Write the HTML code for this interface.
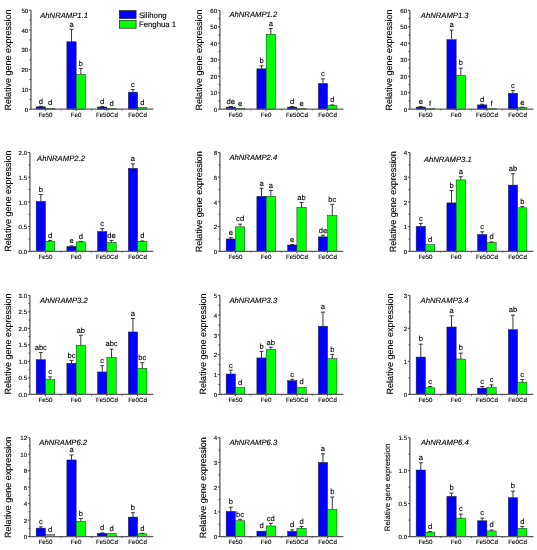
<!DOCTYPE html>
<html><head><meta charset="utf-8"><style>
html,body{margin:0;padding:0;background:#fff;}
svg{display:block;will-change:transform;}
text{font-family:"Liberation Sans", sans-serif;fill:#000;text-rendering:geometricPrecision;stroke:#000;stroke-width:0.12px;}
.L{font-size:7.6px;text-anchor:middle;}
.X{font-size:6.2px;text-anchor:middle;}
.T{font-size:6.1px;text-anchor:end;}
.H{font-size:7.7px;font-style:italic;}
.Y{text-anchor:middle;}
.G{font-size:7.8px;}
</style></head><body>
<svg width="537" height="550" viewBox="0 0 537 550">
<rect width="537" height="550" fill="#fff"/>
<rect x="36.15" y="106.83" width="9.3" height="2.37" fill="#0000ff" stroke="#222" stroke-width="0.5"/>
<path d="M40.8 106.83V106.23M38.8 106.23h4" stroke="#222" stroke-width="0.9" fill="none"/>
<text x="40.8" y="103.53" class="L">d</text>
<rect x="45.45" y="108.31" width="9.3" height="0.89" fill="#00ff00" stroke="#222" stroke-width="0.5"/>
<text x="50.1" y="105.41" class="L">d</text>
<text x="45.45" y="116.55" class="X">Fe50</text>
<path d="M45.45 109.2v1.8" stroke="#333" stroke-width="0.9"/>
<path d="M60.81 109.2v1.3" stroke="#333" stroke-width="0.9"/>
<rect x="66.87" y="41.75" width="9.3" height="67.45" fill="#0000ff" stroke="#222" stroke-width="0.5"/>
<path d="M71.52 41.75V29.29M69.52 29.29h4" stroke="#222" stroke-width="0.9" fill="none"/>
<text x="71.52" y="26.59" class="L">a</text>
<rect x="76.17" y="74.39" width="9.3" height="34.81" fill="#00ff00" stroke="#222" stroke-width="0.5"/>
<path d="M80.82 74.39V68.45M78.82 68.45h4" stroke="#222" stroke-width="0.9" fill="none"/>
<text x="80.82" y="65.75" class="L">b</text>
<text x="76.17" y="116.55" class="X">Fe0</text>
<path d="M76.17 109.2v1.8" stroke="#333" stroke-width="0.9"/>
<path d="M91.53 109.2v1.3" stroke="#333" stroke-width="0.9"/>
<rect x="97.59" y="107.02" width="9.3" height="2.18" fill="#0000ff" stroke="#222" stroke-width="0.5"/>
<path d="M102.24 107.02V106.43M100.24 106.43h4" stroke="#222" stroke-width="0.9" fill="none"/>
<text x="102.24" y="103.73" class="L">d</text>
<rect x="106.89" y="108.51" width="9.3" height="0.69" fill="#00ff00" stroke="#222" stroke-width="0.5"/>
<text x="111.54" y="105.61" class="L">d</text>
<text x="106.89" y="116.55" class="X">Fe50Cd</text>
<path d="M106.89 109.2v1.8" stroke="#333" stroke-width="0.9"/>
<path d="M122.25 109.2v1.3" stroke="#333" stroke-width="0.9"/>
<rect x="128.31" y="92.19" width="9.3" height="17.01" fill="#0000ff" stroke="#222" stroke-width="0.5"/>
<path d="M132.96 92.19V89.62M130.96 89.62h4" stroke="#222" stroke-width="0.9" fill="none"/>
<text x="132.96" y="86.92" class="L">c</text>
<rect x="137.61" y="107.42" width="9.3" height="1.78" fill="#00ff00" stroke="#222" stroke-width="0.5"/>
<text x="142.26" y="104.52" class="L">d</text>
<text x="137.61" y="116.55" class="X">Fe0Cd</text>
<path d="M137.61 109.2v1.8" stroke="#333" stroke-width="0.9"/>
<path d="M31 10.3V109.2H153.4" stroke="#5a5a5a" stroke-width="1.3" fill="none"/>
<path d="M29 109.2h2" stroke="#333" stroke-width="0.9"/>
<text x="28.2" y="111.8" class="T">0</text>
<path d="M29.6 99.31h1.4" stroke="#333" stroke-width="0.9"/>
<path d="M29 89.42h2" stroke="#333" stroke-width="0.9"/>
<text x="28.2" y="92.02" class="T">10</text>
<path d="M29.6 79.53h1.4" stroke="#333" stroke-width="0.9"/>
<path d="M29 69.64h2" stroke="#333" stroke-width="0.9"/>
<text x="28.2" y="72.24" class="T">20</text>
<path d="M29.6 59.75h1.4" stroke="#333" stroke-width="0.9"/>
<path d="M29 49.86h2" stroke="#333" stroke-width="0.9"/>
<text x="28.2" y="52.46" class="T">30</text>
<path d="M29.6 39.97h1.4" stroke="#333" stroke-width="0.9"/>
<path d="M29 30.08h2" stroke="#333" stroke-width="0.9"/>
<text x="28.2" y="32.68" class="T">40</text>
<path d="M29.6 20.19h1.4" stroke="#333" stroke-width="0.9"/>
<path d="M29 10.3h2" stroke="#333" stroke-width="0.9"/>
<text x="28.2" y="12.9" class="T">50</text>
<text x="40.2" y="17.7" class="H">AhNRAMP1.1</text>
<text transform="translate(11.4 59.95) rotate(-90)" class="Y" style="font-size:9px">Relative gene expression</text>
<rect x="226.15" y="107.06" width="9.3" height="2.14" fill="#0000ff" stroke="#222" stroke-width="0.5"/>
<path d="M230.8 107.06V106.56M228.8 106.56h4" stroke="#222" stroke-width="0.9" fill="none"/>
<text x="230.8" y="103.86" class="L">de</text>
<rect x="235.45" y="108.38" width="9.3" height="0.82" fill="#00ff00" stroke="#222" stroke-width="0.5"/>
<text x="240.1" y="105.51" class="L">e</text>
<text x="235.45" y="116.55" class="X">Fe50</text>
<path d="M235.45 109.2v1.8" stroke="#333" stroke-width="0.9"/>
<path d="M250.81 109.2v1.3" stroke="#333" stroke-width="0.9"/>
<rect x="256.87" y="68.82" width="9.3" height="40.38" fill="#0000ff" stroke="#222" stroke-width="0.5"/>
<path d="M261.52 68.82V65.85M259.52 65.85h4" stroke="#222" stroke-width="0.9" fill="none"/>
<text x="261.52" y="63.15" class="L">b</text>
<rect x="266.17" y="34.2" width="9.3" height="75" fill="#00ff00" stroke="#222" stroke-width="0.5"/>
<path d="M270.82 34.2V28.43M268.82 28.43h4" stroke="#222" stroke-width="0.9" fill="none"/>
<text x="270.82" y="25.73" class="L">a</text>
<text x="266.17" y="116.55" class="X">Fe0</text>
<path d="M266.17 109.2v1.8" stroke="#333" stroke-width="0.9"/>
<path d="M281.53 109.2v1.3" stroke="#333" stroke-width="0.9"/>
<rect x="287.59" y="107.06" width="9.3" height="2.14" fill="#0000ff" stroke="#222" stroke-width="0.5"/>
<path d="M292.24 107.06V106.56M290.24 106.56h4" stroke="#222" stroke-width="0.9" fill="none"/>
<text x="292.24" y="103.86" class="L">d</text>
<rect x="296.89" y="108.71" width="9.3" height="0.49" fill="#00ff00" stroke="#222" stroke-width="0.5"/>
<text x="301.54" y="105.84" class="L">e</text>
<text x="296.89" y="116.55" class="X">Fe50Cd</text>
<path d="M296.89 109.2v1.8" stroke="#333" stroke-width="0.9"/>
<path d="M312.25 109.2v1.3" stroke="#333" stroke-width="0.9"/>
<rect x="318.31" y="83.49" width="9.3" height="25.71" fill="#0000ff" stroke="#222" stroke-width="0.5"/>
<path d="M322.96 83.49V78.87M320.96 78.87h4" stroke="#222" stroke-width="0.9" fill="none"/>
<text x="322.96" y="76.17" class="L">c</text>
<rect x="327.61" y="105.41" width="9.3" height="3.79" fill="#00ff00" stroke="#222" stroke-width="0.5"/>
<path d="M332.26 105.41V104.91M330.26 104.91h4" stroke="#222" stroke-width="0.9" fill="none"/>
<text x="332.26" y="102.21" class="L">d</text>
<text x="327.61" y="116.55" class="X">Fe0Cd</text>
<path d="M327.61 109.2v1.8" stroke="#333" stroke-width="0.9"/>
<path d="M219.9 10.3V109.2H343.4" stroke="#5a5a5a" stroke-width="1.3" fill="none"/>
<path d="M217.9 109.2h2" stroke="#333" stroke-width="0.9"/>
<text x="217.1" y="111.8" class="T">0</text>
<path d="M218.5 100.96h1.4" stroke="#333" stroke-width="0.9"/>
<path d="M217.9 92.72h2" stroke="#333" stroke-width="0.9"/>
<text x="217.1" y="95.32" class="T">10</text>
<path d="M218.5 84.47h1.4" stroke="#333" stroke-width="0.9"/>
<path d="M217.9 76.23h2" stroke="#333" stroke-width="0.9"/>
<text x="217.1" y="78.83" class="T">20</text>
<path d="M218.5 67.99h1.4" stroke="#333" stroke-width="0.9"/>
<path d="M217.9 59.75h2" stroke="#333" stroke-width="0.9"/>
<text x="217.1" y="62.35" class="T">30</text>
<path d="M218.5 51.51h1.4" stroke="#333" stroke-width="0.9"/>
<path d="M217.9 43.27h2" stroke="#333" stroke-width="0.9"/>
<text x="217.1" y="45.87" class="T">40</text>
<path d="M218.5 35.02h1.4" stroke="#333" stroke-width="0.9"/>
<path d="M217.9 26.78h2" stroke="#333" stroke-width="0.9"/>
<text x="217.1" y="29.38" class="T">50</text>
<path d="M218.5 18.54h1.4" stroke="#333" stroke-width="0.9"/>
<path d="M217.9 10.3h2" stroke="#333" stroke-width="0.9"/>
<text x="217.1" y="12.9" class="T">60</text>
<text x="229.4" y="16.6" class="H">AhNRAMP1.2</text>
<text transform="translate(201.8 59.95) rotate(-90)" class="Y" style="font-size:9px">Relative gene expression</text>
<rect x="416.15" y="107.06" width="9.3" height="2.14" fill="#0000ff" stroke="#222" stroke-width="0.5"/>
<path d="M420.8 107.06V106.56M418.8 106.56h4" stroke="#222" stroke-width="0.9" fill="none"/>
<text x="420.8" y="103.86" class="L">e</text>
<rect x="425.45" y="108.71" width="9.3" height="0.49" fill="#00ff00" stroke="#222" stroke-width="0.5"/>
<text x="430.1" y="105.84" class="L">f</text>
<text x="425.45" y="116.55" class="X">Fe50</text>
<path d="M425.45 109.2v1.8" stroke="#333" stroke-width="0.9"/>
<path d="M440.81 109.2v1.3" stroke="#333" stroke-width="0.9"/>
<rect x="446.87" y="39.64" width="9.3" height="69.56" fill="#0000ff" stroke="#222" stroke-width="0.5"/>
<path d="M451.52 39.64V30.08M449.52 30.08h4" stroke="#222" stroke-width="0.9" fill="none"/>
<text x="451.52" y="27.38" class="L">a</text>
<rect x="456.17" y="75.24" width="9.3" height="33.96" fill="#00ff00" stroke="#222" stroke-width="0.5"/>
<path d="M460.82 75.24V68.16M458.82 68.16h4" stroke="#222" stroke-width="0.9" fill="none"/>
<text x="460.82" y="65.46" class="L">b</text>
<text x="456.17" y="116.55" class="X">Fe0</text>
<path d="M456.17 109.2v1.8" stroke="#333" stroke-width="0.9"/>
<path d="M471.53 109.2v1.3" stroke="#333" stroke-width="0.9"/>
<rect x="477.59" y="104.91" width="9.3" height="4.29" fill="#0000ff" stroke="#222" stroke-width="0.5"/>
<path d="M482.24 104.91V104.25M480.24 104.25h4" stroke="#222" stroke-width="0.9" fill="none"/>
<text x="482.24" y="101.55" class="L">d</text>
<rect x="486.89" y="108.71" width="9.3" height="0.49" fill="#00ff00" stroke="#222" stroke-width="0.5"/>
<text x="491.54" y="105.84" class="L">f</text>
<text x="486.89" y="116.55" class="X">Fe50Cd</text>
<path d="M486.89 109.2v1.8" stroke="#333" stroke-width="0.9"/>
<path d="M502.25 109.2v1.3" stroke="#333" stroke-width="0.9"/>
<rect x="508.31" y="93.21" width="9.3" height="15.99" fill="#0000ff" stroke="#222" stroke-width="0.5"/>
<path d="M512.96 93.21V90.57M510.96 90.57h4" stroke="#222" stroke-width="0.9" fill="none"/>
<text x="512.96" y="87.87" class="L">c</text>
<rect x="517.61" y="107.55" width="9.3" height="1.65" fill="#00ff00" stroke="#222" stroke-width="0.5"/>
<path d="M522.26 107.55V107.22M520.26 107.22h4" stroke="#222" stroke-width="0.9" fill="none"/>
<text x="522.26" y="104.52" class="L">e</text>
<text x="517.61" y="116.55" class="X">Fe0Cd</text>
<path d="M517.61 109.2v1.8" stroke="#333" stroke-width="0.9"/>
<path d="M409.9 10.3V109.2H533.4" stroke="#5a5a5a" stroke-width="1.3" fill="none"/>
<path d="M407.9 109.2h2" stroke="#333" stroke-width="0.9"/>
<text x="407.1" y="111.8" class="T">0</text>
<path d="M408.5 100.96h1.4" stroke="#333" stroke-width="0.9"/>
<path d="M407.9 92.72h2" stroke="#333" stroke-width="0.9"/>
<text x="407.1" y="95.32" class="T">10</text>
<path d="M408.5 84.47h1.4" stroke="#333" stroke-width="0.9"/>
<path d="M407.9 76.23h2" stroke="#333" stroke-width="0.9"/>
<text x="407.1" y="78.83" class="T">20</text>
<path d="M408.5 67.99h1.4" stroke="#333" stroke-width="0.9"/>
<path d="M407.9 59.75h2" stroke="#333" stroke-width="0.9"/>
<text x="407.1" y="62.35" class="T">30</text>
<path d="M408.5 51.51h1.4" stroke="#333" stroke-width="0.9"/>
<path d="M407.9 43.27h2" stroke="#333" stroke-width="0.9"/>
<text x="407.1" y="45.87" class="T">40</text>
<path d="M408.5 35.02h1.4" stroke="#333" stroke-width="0.9"/>
<path d="M407.9 26.78h2" stroke="#333" stroke-width="0.9"/>
<text x="407.1" y="29.38" class="T">50</text>
<path d="M408.5 18.54h1.4" stroke="#333" stroke-width="0.9"/>
<path d="M407.9 10.3h2" stroke="#333" stroke-width="0.9"/>
<text x="407.1" y="12.9" class="T">60</text>
<text x="420.8" y="18.2" class="H">AhNRAMP1.3</text>
<text transform="translate(392.3 59.95) rotate(-90)" class="Y" style="font-size:9px">Relative gene expression</text>
<rect x="36.15" y="201.41" width="9.3" height="49.89" fill="#0000ff" stroke="#222" stroke-width="0.5"/>
<path d="M40.8 201.41V194.49M38.8 194.49h4" stroke="#222" stroke-width="0.9" fill="none"/>
<text x="40.8" y="191.79" class="L">b</text>
<rect x="45.45" y="241.42" width="9.3" height="9.88" fill="#00ff00" stroke="#222" stroke-width="0.5"/>
<path d="M50.1 241.42V240.43M48.1 240.43h4" stroke="#222" stroke-width="0.9" fill="none"/>
<text x="50.1" y="237.73" class="L">d</text>
<text x="45.45" y="258.65" class="X">Fe50</text>
<path d="M45.45 251.3v1.8" stroke="#333" stroke-width="0.9"/>
<path d="M60.81 251.3v1.3" stroke="#333" stroke-width="0.9"/>
<rect x="66.87" y="246.36" width="9.3" height="4.94" fill="#0000ff" stroke="#222" stroke-width="0.5"/>
<path d="M71.52 246.36V245.87M69.52 245.87h4" stroke="#222" stroke-width="0.9" fill="none"/>
<text x="71.52" y="243.17" class="L">e</text>
<rect x="76.17" y="241.91" width="9.3" height="9.39" fill="#00ff00" stroke="#222" stroke-width="0.5"/>
<path d="M80.82 241.91V241.42M78.82 241.42h4" stroke="#222" stroke-width="0.9" fill="none"/>
<text x="80.82" y="238.72" class="L">d</text>
<text x="76.17" y="258.65" class="X">Fe0</text>
<path d="M76.17 251.3v1.8" stroke="#333" stroke-width="0.9"/>
<path d="M91.53 251.3v1.3" stroke="#333" stroke-width="0.9"/>
<rect x="97.59" y="231.54" width="9.3" height="19.76" fill="#0000ff" stroke="#222" stroke-width="0.5"/>
<path d="M102.24 231.54V228.58M100.24 228.58h4" stroke="#222" stroke-width="0.9" fill="none"/>
<text x="102.24" y="225.88" class="L">c</text>
<rect x="106.89" y="242.41" width="9.3" height="8.89" fill="#00ff00" stroke="#222" stroke-width="0.5"/>
<path d="M111.54 242.41V240.43M109.54 240.43h4" stroke="#222" stroke-width="0.9" fill="none"/>
<text x="111.54" y="237.73" class="L">de</text>
<text x="106.89" y="258.65" class="X">Fe50Cd</text>
<path d="M106.89 251.3v1.8" stroke="#333" stroke-width="0.9"/>
<path d="M122.25 251.3v1.3" stroke="#333" stroke-width="0.9"/>
<rect x="128.31" y="168.31" width="9.3" height="82.99" fill="#0000ff" stroke="#222" stroke-width="0.5"/>
<path d="M132.96 168.31V163.86M130.96 163.86h4" stroke="#222" stroke-width="0.9" fill="none"/>
<text x="132.96" y="161.16" class="L">a</text>
<rect x="137.61" y="241.42" width="9.3" height="9.88" fill="#00ff00" stroke="#222" stroke-width="0.5"/>
<path d="M142.26 241.42V240.93M140.26 240.93h4" stroke="#222" stroke-width="0.9" fill="none"/>
<text x="142.26" y="238.23" class="L">d</text>
<text x="137.61" y="258.65" class="X">Fe0Cd</text>
<path d="M137.61 251.3v1.8" stroke="#333" stroke-width="0.9"/>
<path d="M29.9 152.5V251.3H153.4" stroke="#5a5a5a" stroke-width="1.3" fill="none"/>
<path d="M27.9 251.3h2" stroke="#333" stroke-width="0.9"/>
<text x="27.1" y="253.9" class="T">0.0</text>
<path d="M28.5 238.95h1.4" stroke="#333" stroke-width="0.9"/>
<path d="M27.9 226.6h2" stroke="#333" stroke-width="0.9"/>
<text x="27.1" y="229.2" class="T">0.5</text>
<path d="M28.5 214.25h1.4" stroke="#333" stroke-width="0.9"/>
<path d="M27.9 201.9h2" stroke="#333" stroke-width="0.9"/>
<text x="27.1" y="204.5" class="T">1.0</text>
<path d="M28.5 189.55h1.4" stroke="#333" stroke-width="0.9"/>
<path d="M27.9 177.2h2" stroke="#333" stroke-width="0.9"/>
<text x="27.1" y="179.8" class="T">1.5</text>
<path d="M28.5 164.85h1.4" stroke="#333" stroke-width="0.9"/>
<path d="M27.9 152.5h2" stroke="#333" stroke-width="0.9"/>
<text x="27.1" y="155.1" class="T">2.0</text>
<text x="37.1" y="160.5" class="H">AhNRAMP2.2</text>
<text transform="translate(11.2 201.1) rotate(-90)" class="Y" style="font-size:9px">Relative gene expression</text>
<rect x="226.15" y="238.95" width="9.3" height="12.35" fill="#0000ff" stroke="#222" stroke-width="0.5"/>
<path d="M230.8 238.95V237.72M228.8 237.72h4" stroke="#222" stroke-width="0.9" fill="none"/>
<text x="230.8" y="235.02" class="L">e</text>
<rect x="235.45" y="226.85" width="9.3" height="24.45" fill="#00ff00" stroke="#222" stroke-width="0.5"/>
<path d="M240.1 226.85V224.13M238.1 224.13h4" stroke="#222" stroke-width="0.9" fill="none"/>
<text x="240.1" y="221.43" class="L">cd</text>
<text x="235.45" y="258.65" class="X">Fe50</text>
<path d="M235.45 251.3v1.8" stroke="#333" stroke-width="0.9"/>
<path d="M250.81 251.3v1.3" stroke="#333" stroke-width="0.9"/>
<rect x="256.87" y="196.34" width="9.3" height="54.96" fill="#0000ff" stroke="#222" stroke-width="0.5"/>
<path d="M261.52 196.34V188.31M259.52 188.31h4" stroke="#222" stroke-width="0.9" fill="none"/>
<text x="261.52" y="185.62" class="L">a</text>
<rect x="266.17" y="196.34" width="9.3" height="54.96" fill="#00ff00" stroke="#222" stroke-width="0.5"/>
<path d="M270.82 196.34V190.41M268.82 190.41h4" stroke="#222" stroke-width="0.9" fill="none"/>
<text x="270.82" y="187.71" class="L">a</text>
<text x="266.17" y="258.65" class="X">Fe0</text>
<path d="M266.17 251.3v1.8" stroke="#333" stroke-width="0.9"/>
<path d="M281.53 251.3v1.3" stroke="#333" stroke-width="0.9"/>
<rect x="287.59" y="245" width="9.3" height="6.3" fill="#0000ff" stroke="#222" stroke-width="0.5"/>
<path d="M292.24 245V244.51M290.24 244.51h4" stroke="#222" stroke-width="0.9" fill="none"/>
<text x="292.24" y="241.81" class="L">e</text>
<rect x="296.89" y="207.33" width="9.3" height="43.97" fill="#00ff00" stroke="#222" stroke-width="0.5"/>
<path d="M301.54 207.33V202.52M299.54 202.52h4" stroke="#222" stroke-width="0.9" fill="none"/>
<text x="301.54" y="199.82" class="L">ab</text>
<text x="296.89" y="258.65" class="X">Fe50Cd</text>
<path d="M296.89 251.3v1.8" stroke="#333" stroke-width="0.9"/>
<path d="M312.25 251.3v1.3" stroke="#333" stroke-width="0.9"/>
<rect x="318.31" y="236.85" width="9.3" height="14.45" fill="#0000ff" stroke="#222" stroke-width="0.5"/>
<path d="M322.96 236.85V235.25M320.96 235.25h4" stroke="#222" stroke-width="0.9" fill="none"/>
<text x="322.96" y="232.55" class="L">de</text>
<rect x="327.61" y="215.49" width="9.3" height="35.81" fill="#00ff00" stroke="#222" stroke-width="0.5"/>
<path d="M332.26 215.49V204.37M330.26 204.37h4" stroke="#222" stroke-width="0.9" fill="none"/>
<text x="332.26" y="201.67" class="L">bc</text>
<text x="327.61" y="258.65" class="X">Fe0Cd</text>
<path d="M327.61 251.3v1.8" stroke="#333" stroke-width="0.9"/>
<path d="M219.9 152.5V251.3H343.4" stroke="#5a5a5a" stroke-width="1.3" fill="none"/>
<path d="M217.9 251.3h2" stroke="#333" stroke-width="0.9"/>
<text x="217.1" y="253.9" class="T">0</text>
<path d="M218.5 238.95h1.4" stroke="#333" stroke-width="0.9"/>
<path d="M217.9 226.6h2" stroke="#333" stroke-width="0.9"/>
<text x="217.1" y="229.2" class="T">2</text>
<path d="M218.5 214.25h1.4" stroke="#333" stroke-width="0.9"/>
<path d="M217.9 201.9h2" stroke="#333" stroke-width="0.9"/>
<text x="217.1" y="204.5" class="T">4</text>
<path d="M218.5 189.55h1.4" stroke="#333" stroke-width="0.9"/>
<path d="M217.9 177.2h2" stroke="#333" stroke-width="0.9"/>
<text x="217.1" y="179.8" class="T">6</text>
<path d="M218.5 164.85h1.4" stroke="#333" stroke-width="0.9"/>
<path d="M217.9 152.5h2" stroke="#333" stroke-width="0.9"/>
<text x="217.1" y="155.1" class="T">8</text>
<text x="229.4" y="160.4" class="H">AhNRAMP2.4</text>
<text transform="translate(201.7 201.8) rotate(-90)" class="Y" style="font-size:9px">Relative gene expression</text>
<rect x="416.15" y="226.35" width="9.3" height="24.95" fill="#0000ff" stroke="#222" stroke-width="0.5"/>
<path d="M420.8 226.35V223.39M418.8 223.39h4" stroke="#222" stroke-width="0.9" fill="none"/>
<text x="420.8" y="220.69" class="L">c</text>
<rect x="425.45" y="244.63" width="9.3" height="6.67" fill="#00ff00" stroke="#222" stroke-width="0.5"/>
<text x="430.1" y="241.68" class="L">d</text>
<text x="425.45" y="258.65" class="X">Fe50</text>
<path d="M425.45 251.3v1.8" stroke="#333" stroke-width="0.9"/>
<path d="M440.81 251.3v1.3" stroke="#333" stroke-width="0.9"/>
<rect x="446.87" y="202.89" width="9.3" height="48.41" fill="#0000ff" stroke="#222" stroke-width="0.5"/>
<path d="M451.52 202.89V190.54M449.52 190.54h4" stroke="#222" stroke-width="0.9" fill="none"/>
<text x="451.52" y="187.84" class="L">b</text>
<rect x="456.17" y="179.92" width="9.3" height="71.38" fill="#00ff00" stroke="#222" stroke-width="0.5"/>
<path d="M460.82 179.92V176.71M458.82 176.71h4" stroke="#222" stroke-width="0.9" fill="none"/>
<text x="460.82" y="174.01" class="L">a</text>
<text x="456.17" y="258.65" class="X">Fe0</text>
<path d="M456.17 251.3v1.8" stroke="#333" stroke-width="0.9"/>
<path d="M471.53 251.3v1.3" stroke="#333" stroke-width="0.9"/>
<rect x="477.59" y="234.5" width="9.3" height="16.8" fill="#0000ff" stroke="#222" stroke-width="0.5"/>
<path d="M482.24 234.5V231.79M480.24 231.79h4" stroke="#222" stroke-width="0.9" fill="none"/>
<text x="482.24" y="229.09" class="L">c</text>
<rect x="486.89" y="242.41" width="9.3" height="8.89" fill="#00ff00" stroke="#222" stroke-width="0.5"/>
<path d="M491.54 242.41V241.91M489.54 241.91h4" stroke="#222" stroke-width="0.9" fill="none"/>
<text x="491.54" y="239.21" class="L">d</text>
<text x="486.89" y="258.65" class="X">Fe50Cd</text>
<path d="M486.89 251.3v1.8" stroke="#333" stroke-width="0.9"/>
<path d="M502.25 251.3v1.3" stroke="#333" stroke-width="0.9"/>
<rect x="508.31" y="185.1" width="9.3" height="66.2" fill="#0000ff" stroke="#222" stroke-width="0.5"/>
<path d="M512.96 185.1V173.74M510.96 173.74h4" stroke="#222" stroke-width="0.9" fill="none"/>
<text x="512.96" y="171.04" class="L">ab</text>
<rect x="517.61" y="207.83" width="9.3" height="43.47" fill="#00ff00" stroke="#222" stroke-width="0.5"/>
<path d="M522.26 207.83V206.59M520.26 206.59h4" stroke="#222" stroke-width="0.9" fill="none"/>
<text x="522.26" y="203.89" class="L">b</text>
<text x="517.61" y="258.65" class="X">Fe0Cd</text>
<path d="M517.61 251.3v1.8" stroke="#333" stroke-width="0.9"/>
<path d="M409.9 152.5V251.3H533.4" stroke="#5a5a5a" stroke-width="1.3" fill="none"/>
<path d="M407.9 251.3h2" stroke="#333" stroke-width="0.9"/>
<text x="407.1" y="253.9" class="T">0</text>
<path d="M408.5 238.95h1.4" stroke="#333" stroke-width="0.9"/>
<path d="M407.9 226.6h2" stroke="#333" stroke-width="0.9"/>
<text x="407.1" y="229.2" class="T">1</text>
<path d="M408.5 214.25h1.4" stroke="#333" stroke-width="0.9"/>
<path d="M407.9 201.9h2" stroke="#333" stroke-width="0.9"/>
<text x="407.1" y="204.5" class="T">2</text>
<path d="M408.5 189.55h1.4" stroke="#333" stroke-width="0.9"/>
<path d="M407.9 177.2h2" stroke="#333" stroke-width="0.9"/>
<text x="407.1" y="179.8" class="T">3</text>
<path d="M408.5 164.85h1.4" stroke="#333" stroke-width="0.9"/>
<path d="M407.9 152.5h2" stroke="#333" stroke-width="0.9"/>
<text x="407.1" y="155.1" class="T">4</text>
<text x="423.9" y="162.3" class="H">AhNRAMP3.1</text>
<text transform="translate(395.6 201.8) rotate(-90)" class="Y" style="font-size:9px">Relative gene expression</text>
<rect x="36.15" y="359.71" width="9.3" height="34.69" fill="#0000ff" stroke="#222" stroke-width="0.5"/>
<path d="M40.8 359.71V352.45M38.8 352.45h4" stroke="#222" stroke-width="0.9" fill="none"/>
<text x="40.8" y="349.75" class="L">abc</text>
<rect x="45.45" y="379.53" width="9.3" height="14.87" fill="#00ff00" stroke="#222" stroke-width="0.5"/>
<path d="M50.1 379.53V376.89M48.1 376.89h4" stroke="#222" stroke-width="0.9" fill="none"/>
<text x="50.1" y="374.19" class="L">c</text>
<text x="45.45" y="401.75" class="X">Fe50</text>
<path d="M45.45 394.4v1.8" stroke="#333" stroke-width="0.9"/>
<path d="M60.81 394.4v1.3" stroke="#333" stroke-width="0.9"/>
<rect x="66.87" y="363.35" width="9.3" height="31.05" fill="#0000ff" stroke="#222" stroke-width="0.5"/>
<path d="M71.52 363.35V360.38M69.52 360.38h4" stroke="#222" stroke-width="0.9" fill="none"/>
<text x="71.52" y="357.68" class="L">bc</text>
<rect x="76.17" y="345.18" width="9.3" height="49.22" fill="#00ff00" stroke="#222" stroke-width="0.5"/>
<path d="M80.82 345.18V335.27M78.82 335.27h4" stroke="#222" stroke-width="0.9" fill="none"/>
<text x="80.82" y="332.57" class="L">ab</text>
<text x="76.17" y="401.75" class="X">Fe0</text>
<path d="M76.17 394.4v1.8" stroke="#333" stroke-width="0.9"/>
<path d="M91.53 394.4v1.3" stroke="#333" stroke-width="0.9"/>
<rect x="97.59" y="371.94" width="9.3" height="22.46" fill="#0000ff" stroke="#222" stroke-width="0.5"/>
<path d="M102.24 371.94V365.66M100.24 365.66h4" stroke="#222" stroke-width="0.9" fill="none"/>
<text x="102.24" y="362.96" class="L">c</text>
<rect x="106.89" y="357.4" width="9.3" height="37" fill="#00ff00" stroke="#222" stroke-width="0.5"/>
<path d="M111.54 357.4V349.14M109.54 349.14h4" stroke="#222" stroke-width="0.9" fill="none"/>
<text x="111.54" y="346.44" class="L">abc</text>
<text x="106.89" y="401.75" class="X">Fe50Cd</text>
<path d="M106.89 394.4v1.8" stroke="#333" stroke-width="0.9"/>
<path d="M122.25 394.4v1.3" stroke="#333" stroke-width="0.9"/>
<rect x="128.31" y="331.97" width="9.3" height="62.43" fill="#0000ff" stroke="#222" stroke-width="0.5"/>
<path d="M132.96 331.97V318.42M130.96 318.42h4" stroke="#222" stroke-width="0.9" fill="none"/>
<text x="132.96" y="315.72" class="L">a</text>
<rect x="137.61" y="368.3" width="9.3" height="26.1" fill="#00ff00" stroke="#222" stroke-width="0.5"/>
<path d="M142.26 368.3V362.69M140.26 362.69h4" stroke="#222" stroke-width="0.9" fill="none"/>
<text x="142.26" y="359.99" class="L">bc</text>
<text x="137.61" y="401.75" class="X">Fe0Cd</text>
<path d="M137.61 394.4v1.8" stroke="#333" stroke-width="0.9"/>
<path d="M29.9 295.3V394.4H153.4" stroke="#5a5a5a" stroke-width="1.3" fill="none"/>
<path d="M27.9 394.4h2" stroke="#333" stroke-width="0.9"/>
<text x="27.1" y="397" class="T">0.0</text>
<path d="M28.5 386.14h1.4" stroke="#333" stroke-width="0.9"/>
<path d="M27.9 377.88h2" stroke="#333" stroke-width="0.9"/>
<text x="27.1" y="380.48" class="T">0.5</text>
<path d="M28.5 369.62h1.4" stroke="#333" stroke-width="0.9"/>
<path d="M27.9 361.37h2" stroke="#333" stroke-width="0.9"/>
<text x="27.1" y="363.97" class="T">1.0</text>
<path d="M28.5 353.11h1.4" stroke="#333" stroke-width="0.9"/>
<path d="M27.9 344.85h2" stroke="#333" stroke-width="0.9"/>
<text x="27.1" y="347.45" class="T">1.5</text>
<path d="M28.5 336.59h1.4" stroke="#333" stroke-width="0.9"/>
<path d="M27.9 328.33h2" stroke="#333" stroke-width="0.9"/>
<text x="27.1" y="330.93" class="T">2.0</text>
<path d="M28.5 320.07h1.4" stroke="#333" stroke-width="0.9"/>
<path d="M27.9 311.82h2" stroke="#333" stroke-width="0.9"/>
<text x="27.1" y="314.42" class="T">2.5</text>
<path d="M28.5 303.56h1.4" stroke="#333" stroke-width="0.9"/>
<path d="M27.9 295.3h2" stroke="#333" stroke-width="0.9"/>
<text x="27.1" y="297.9" class="T">3.0</text>
<text x="39.9" y="302.7" class="H">AhNRAMP3.2</text>
<text transform="translate(11.3 343.95) rotate(-90)" class="Y" style="font-size:9px">Relative gene expression</text>
<rect x="226.15" y="373.99" width="9.3" height="20.41" fill="#0000ff" stroke="#222" stroke-width="0.5"/>
<path d="M230.8 373.99V370.22M228.8 370.22h4" stroke="#222" stroke-width="0.9" fill="none"/>
<text x="230.8" y="367.52" class="L">c</text>
<rect x="235.45" y="387.66" width="9.3" height="6.74" fill="#00ff00" stroke="#222" stroke-width="0.5"/>
<text x="240.1" y="384.76" class="L">d</text>
<text x="235.45" y="401.75" class="X">Fe50</text>
<path d="M235.45 394.4v1.8" stroke="#333" stroke-width="0.9"/>
<path d="M250.81 394.4v1.3" stroke="#333" stroke-width="0.9"/>
<rect x="256.87" y="357.93" width="9.3" height="36.47" fill="#0000ff" stroke="#222" stroke-width="0.5"/>
<path d="M261.52 357.93V351.39M259.52 351.39h4" stroke="#222" stroke-width="0.9" fill="none"/>
<text x="261.52" y="348.69" class="L">b</text>
<rect x="266.17" y="349.61" width="9.3" height="44.79" fill="#00ff00" stroke="#222" stroke-width="0.5"/>
<path d="M270.82 349.61V347.23M268.82 347.23h4" stroke="#222" stroke-width="0.9" fill="none"/>
<text x="270.82" y="344.53" class="L">ab</text>
<text x="266.17" y="401.75" class="X">Fe0</text>
<path d="M266.17 394.4v1.8" stroke="#333" stroke-width="0.9"/>
<path d="M281.53 394.4v1.3" stroke="#333" stroke-width="0.9"/>
<rect x="287.59" y="380.72" width="9.3" height="13.68" fill="#0000ff" stroke="#222" stroke-width="0.5"/>
<path d="M292.24 380.72V379.34M290.24 379.34h4" stroke="#222" stroke-width="0.9" fill="none"/>
<text x="292.24" y="376.64" class="L">c</text>
<rect x="296.89" y="387.26" width="9.3" height="7.14" fill="#00ff00" stroke="#222" stroke-width="0.5"/>
<text x="301.54" y="384.37" class="L">d</text>
<text x="296.89" y="401.75" class="X">Fe50Cd</text>
<path d="M296.89 394.4v1.8" stroke="#333" stroke-width="0.9"/>
<path d="M312.25 394.4v1.3" stroke="#333" stroke-width="0.9"/>
<rect x="318.31" y="326.22" width="9.3" height="68.18" fill="#0000ff" stroke="#222" stroke-width="0.5"/>
<path d="M322.96 326.22V312.15M320.96 312.15h4" stroke="#222" stroke-width="0.9" fill="none"/>
<text x="322.96" y="309.45" class="L">a</text>
<rect x="327.61" y="358.72" width="9.3" height="35.68" fill="#00ff00" stroke="#222" stroke-width="0.5"/>
<path d="M332.26 358.72V354.36M330.26 354.36h4" stroke="#222" stroke-width="0.9" fill="none"/>
<text x="332.26" y="351.66" class="L">b</text>
<text x="327.61" y="401.75" class="X">Fe0Cd</text>
<path d="M327.61 394.4v1.8" stroke="#333" stroke-width="0.9"/>
<path d="M219.9 295.3V394.4H343.4" stroke="#5a5a5a" stroke-width="1.3" fill="none"/>
<path d="M217.9 394.4h2" stroke="#333" stroke-width="0.9"/>
<text x="217.1" y="397" class="T">0</text>
<path d="M218.5 384.49h1.4" stroke="#333" stroke-width="0.9"/>
<path d="M217.9 374.58h2" stroke="#333" stroke-width="0.9"/>
<text x="217.1" y="377.18" class="T">1</text>
<path d="M218.5 364.67h1.4" stroke="#333" stroke-width="0.9"/>
<path d="M217.9 354.76h2" stroke="#333" stroke-width="0.9"/>
<text x="217.1" y="357.36" class="T">2</text>
<path d="M218.5 344.85h1.4" stroke="#333" stroke-width="0.9"/>
<path d="M217.9 334.94h2" stroke="#333" stroke-width="0.9"/>
<text x="217.1" y="337.54" class="T">3</text>
<path d="M218.5 325.03h1.4" stroke="#333" stroke-width="0.9"/>
<path d="M217.9 315.12h2" stroke="#333" stroke-width="0.9"/>
<text x="217.1" y="317.72" class="T">4</text>
<path d="M218.5 305.21h1.4" stroke="#333" stroke-width="0.9"/>
<path d="M217.9 295.3h2" stroke="#333" stroke-width="0.9"/>
<text x="217.1" y="297.9" class="T">5</text>
<text x="229.4" y="302.7" class="H">AhNRAMP3.3</text>
<text transform="translate(206.2 344.05) rotate(-90)" class="Y" style="font-size:9px">Relative gene expression</text>
<rect x="416.15" y="357.07" width="9.3" height="37.33" fill="#0000ff" stroke="#222" stroke-width="0.5"/>
<path d="M420.8 357.07V344.19M418.8 344.19h4" stroke="#222" stroke-width="0.9" fill="none"/>
<text x="420.8" y="341.49" class="L">b</text>
<rect x="425.45" y="387.79" width="9.3" height="6.61" fill="#00ff00" stroke="#222" stroke-width="0.5"/>
<path d="M430.1 387.79V386.47M428.1 386.47h4" stroke="#222" stroke-width="0.9" fill="none"/>
<text x="430.1" y="383.77" class="L">c</text>
<text x="425.45" y="401.75" class="X">Fe50</text>
<path d="M425.45 394.4v1.8" stroke="#333" stroke-width="0.9"/>
<path d="M440.81 394.4v1.3" stroke="#333" stroke-width="0.9"/>
<rect x="446.87" y="327.01" width="9.3" height="67.39" fill="#0000ff" stroke="#222" stroke-width="0.5"/>
<path d="M451.52 327.01V315.78M449.52 315.78h4" stroke="#222" stroke-width="0.9" fill="none"/>
<text x="451.52" y="313.08" class="L">a</text>
<rect x="456.17" y="359.05" width="9.3" height="35.35" fill="#00ff00" stroke="#222" stroke-width="0.5"/>
<path d="M460.82 359.05V353.11M458.82 353.11h4" stroke="#222" stroke-width="0.9" fill="none"/>
<text x="460.82" y="350.41" class="L">b</text>
<text x="456.17" y="401.75" class="X">Fe0</text>
<path d="M456.17 394.4v1.8" stroke="#333" stroke-width="0.9"/>
<path d="M471.53 394.4v1.3" stroke="#333" stroke-width="0.9"/>
<rect x="477.59" y="388.12" width="9.3" height="6.28" fill="#0000ff" stroke="#222" stroke-width="0.5"/>
<path d="M482.24 388.12V386.47M480.24 386.47h4" stroke="#222" stroke-width="0.9" fill="none"/>
<text x="482.24" y="383.77" class="L">c</text>
<rect x="486.89" y="387.13" width="9.3" height="7.27" fill="#00ff00" stroke="#222" stroke-width="0.5"/>
<path d="M491.54 387.13V384.82M489.54 384.82h4" stroke="#222" stroke-width="0.9" fill="none"/>
<text x="491.54" y="382.12" class="L">c</text>
<text x="486.89" y="401.75" class="X">Fe50Cd</text>
<path d="M486.89 394.4v1.8" stroke="#333" stroke-width="0.9"/>
<path d="M502.25 394.4v1.3" stroke="#333" stroke-width="0.9"/>
<rect x="508.31" y="329.65" width="9.3" height="64.75" fill="#0000ff" stroke="#222" stroke-width="0.5"/>
<path d="M512.96 329.65V315.12M510.96 315.12h4" stroke="#222" stroke-width="0.9" fill="none"/>
<text x="512.96" y="312.42" class="L">ab</text>
<rect x="517.61" y="382.18" width="9.3" height="12.22" fill="#00ff00" stroke="#222" stroke-width="0.5"/>
<path d="M522.26 382.18V379.53M520.26 379.53h4" stroke="#222" stroke-width="0.9" fill="none"/>
<text x="522.26" y="376.83" class="L">c</text>
<text x="517.61" y="401.75" class="X">Fe0Cd</text>
<path d="M517.61 394.4v1.8" stroke="#333" stroke-width="0.9"/>
<path d="M409.9 295.3V394.4H533.4" stroke="#5a5a5a" stroke-width="1.3" fill="none"/>
<path d="M407.9 394.4h2" stroke="#333" stroke-width="0.9"/>
<text x="407.1" y="397" class="T">0</text>
<path d="M408.5 377.88h1.4" stroke="#333" stroke-width="0.9"/>
<path d="M407.9 361.37h2" stroke="#333" stroke-width="0.9"/>
<text x="407.1" y="363.97" class="T">1</text>
<path d="M408.5 344.85h1.4" stroke="#333" stroke-width="0.9"/>
<path d="M407.9 328.33h2" stroke="#333" stroke-width="0.9"/>
<text x="407.1" y="330.93" class="T">2</text>
<path d="M408.5 311.82h1.4" stroke="#333" stroke-width="0.9"/>
<path d="M407.9 295.3h2" stroke="#333" stroke-width="0.9"/>
<text x="407.1" y="297.9" class="T">3</text>
<text x="420.6" y="302.5" class="H">AhNRAMP3.4</text>
<text transform="translate(392.8 344.05) rotate(-90)" class="Y" style="font-size:9px">Relative gene expression</text>
<rect x="36.15" y="528.11" width="9.3" height="8.49" fill="#0000ff" stroke="#222" stroke-width="0.5"/>
<path d="M40.8 528.11V526.87M38.8 526.87h4" stroke="#222" stroke-width="0.9" fill="none"/>
<text x="40.8" y="524.17" class="L">c</text>
<rect x="45.45" y="534.7" width="9.3" height="1.9" fill="#00ff00" stroke="#222" stroke-width="0.5"/>
<text x="50.1" y="531.84" class="L">d</text>
<text x="45.45" y="543.95" class="X">Fe50</text>
<path d="M45.45 536.6v1.8" stroke="#333" stroke-width="0.9"/>
<path d="M60.81 536.6v1.3" stroke="#333" stroke-width="0.9"/>
<rect x="66.87" y="459.95" width="9.3" height="76.65" fill="#0000ff" stroke="#222" stroke-width="0.5"/>
<path d="M71.52 459.95V455.01M69.52 455.01h4" stroke="#222" stroke-width="0.9" fill="none"/>
<text x="71.52" y="452.31" class="L">a</text>
<rect x="76.17" y="521.35" width="9.3" height="15.25" fill="#00ff00" stroke="#222" stroke-width="0.5"/>
<path d="M80.82 521.35V518.47M78.82 518.47h4" stroke="#222" stroke-width="0.9" fill="none"/>
<text x="80.82" y="515.77" class="L">b</text>
<text x="76.17" y="543.95" class="X">Fe0</text>
<path d="M76.17 536.6v1.8" stroke="#333" stroke-width="0.9"/>
<path d="M91.53 536.6v1.3" stroke="#333" stroke-width="0.9"/>
<rect x="97.59" y="533.3" width="9.3" height="3.3" fill="#0000ff" stroke="#222" stroke-width="0.5"/>
<path d="M102.24 533.3V532.89M100.24 532.89h4" stroke="#222" stroke-width="0.9" fill="none"/>
<text x="102.24" y="530.19" class="L">d</text>
<rect x="106.89" y="533.55" width="9.3" height="3.05" fill="#00ff00" stroke="#222" stroke-width="0.5"/>
<text x="111.54" y="530.6" class="L">d</text>
<text x="106.89" y="543.95" class="X">Fe50Cd</text>
<path d="M106.89 536.6v1.8" stroke="#333" stroke-width="0.9"/>
<path d="M122.25 536.6v1.3" stroke="#333" stroke-width="0.9"/>
<rect x="128.31" y="517.07" width="9.3" height="19.53" fill="#0000ff" stroke="#222" stroke-width="0.5"/>
<path d="M132.96 517.07V512.7M130.96 512.7h4" stroke="#222" stroke-width="0.9" fill="none"/>
<text x="132.96" y="510" class="L">b</text>
<rect x="137.61" y="533.8" width="9.3" height="2.8" fill="#00ff00" stroke="#222" stroke-width="0.5"/>
<path d="M142.26 533.8V533.3M140.26 533.3h4" stroke="#222" stroke-width="0.9" fill="none"/>
<text x="142.26" y="530.6" class="L">d</text>
<text x="137.61" y="543.95" class="X">Fe0Cd</text>
<path d="M137.61 536.6v1.8" stroke="#333" stroke-width="0.9"/>
<path d="M29.9 437.7V536.6H153.4" stroke="#5a5a5a" stroke-width="1.3" fill="none"/>
<path d="M27.9 536.6h2" stroke="#333" stroke-width="0.9"/>
<text x="27.1" y="539.2" class="T">0</text>
<path d="M28.5 528.36h1.4" stroke="#333" stroke-width="0.9"/>
<path d="M27.9 520.12h2" stroke="#333" stroke-width="0.9"/>
<text x="27.1" y="522.72" class="T">2</text>
<path d="M28.5 511.88h1.4" stroke="#333" stroke-width="0.9"/>
<path d="M27.9 503.63h2" stroke="#333" stroke-width="0.9"/>
<text x="27.1" y="506.23" class="T">4</text>
<path d="M28.5 495.39h1.4" stroke="#333" stroke-width="0.9"/>
<path d="M27.9 487.15h2" stroke="#333" stroke-width="0.9"/>
<text x="27.1" y="489.75" class="T">6</text>
<path d="M28.5 478.91h1.4" stroke="#333" stroke-width="0.9"/>
<path d="M27.9 470.67h2" stroke="#333" stroke-width="0.9"/>
<text x="27.1" y="473.27" class="T">8</text>
<path d="M28.5 462.43h1.4" stroke="#333" stroke-width="0.9"/>
<path d="M27.9 454.18h2" stroke="#333" stroke-width="0.9"/>
<text x="27.1" y="456.78" class="T">10</text>
<path d="M28.5 445.94h1.4" stroke="#333" stroke-width="0.9"/>
<path d="M27.9 437.7h2" stroke="#333" stroke-width="0.9"/>
<text x="27.1" y="440.3" class="T">12</text>
<text x="39.3" y="445.4" class="H">AhNRAMP6.2</text>
<text transform="translate(11.2 487.35) rotate(-90)" class="Y" style="font-size:9px">Relative gene expression</text>
<rect x="226.15" y="511.38" width="9.3" height="25.22" fill="#0000ff" stroke="#222" stroke-width="0.5"/>
<path d="M230.8 511.38V507.18M228.8 507.18h4" stroke="#222" stroke-width="0.9" fill="none"/>
<text x="230.8" y="504.48" class="L">b</text>
<rect x="235.45" y="520.78" width="9.3" height="15.82" fill="#00ff00" stroke="#222" stroke-width="0.5"/>
<path d="M240.1 520.78V519.29M238.1 519.29h4" stroke="#222" stroke-width="0.9" fill="none"/>
<text x="240.1" y="516.59" class="L">bc</text>
<text x="235.45" y="543.95" class="X">Fe50</text>
<path d="M235.45 536.6v1.8" stroke="#333" stroke-width="0.9"/>
<path d="M250.81 536.6v1.3" stroke="#333" stroke-width="0.9"/>
<rect x="256.87" y="531.16" width="9.3" height="5.44" fill="#0000ff" stroke="#222" stroke-width="0.5"/>
<text x="261.52" y="528.21" class="L">d</text>
<rect x="266.17" y="525.97" width="9.3" height="10.63" fill="#00ff00" stroke="#222" stroke-width="0.5"/>
<path d="M270.82 525.97V523.25M268.82 523.25h4" stroke="#222" stroke-width="0.9" fill="none"/>
<text x="270.82" y="520.55" class="L">cd</text>
<text x="266.17" y="543.95" class="X">Fe0</text>
<path d="M266.17 536.6v1.8" stroke="#333" stroke-width="0.9"/>
<path d="M281.53 536.6v1.3" stroke="#333" stroke-width="0.9"/>
<rect x="287.59" y="531.41" width="9.3" height="5.19" fill="#0000ff" stroke="#222" stroke-width="0.5"/>
<path d="M292.24 531.41V529.92M290.24 529.92h4" stroke="#222" stroke-width="0.9" fill="none"/>
<text x="292.24" y="527.22" class="L">d</text>
<rect x="296.89" y="528.19" width="9.3" height="8.41" fill="#00ff00" stroke="#222" stroke-width="0.5"/>
<path d="M301.54 528.19V526.46M299.54 526.46h4" stroke="#222" stroke-width="0.9" fill="none"/>
<text x="301.54" y="523.76" class="L">d</text>
<text x="296.89" y="543.95" class="X">Fe50Cd</text>
<path d="M296.89 536.6v1.8" stroke="#333" stroke-width="0.9"/>
<path d="M312.25 536.6v1.3" stroke="#333" stroke-width="0.9"/>
<rect x="318.31" y="462.43" width="9.3" height="74.18" fill="#0000ff" stroke="#222" stroke-width="0.5"/>
<path d="M322.96 462.43V453.77M320.96 453.77h4" stroke="#222" stroke-width="0.9" fill="none"/>
<text x="322.96" y="451.07" class="L">a</text>
<rect x="327.61" y="509.4" width="9.3" height="27.2" fill="#00ff00" stroke="#222" stroke-width="0.5"/>
<path d="M332.26 509.4V497.04M330.26 497.04h4" stroke="#222" stroke-width="0.9" fill="none"/>
<text x="332.26" y="494.34" class="L">b</text>
<text x="327.61" y="543.95" class="X">Fe0Cd</text>
<path d="M327.61 536.6v1.8" stroke="#333" stroke-width="0.9"/>
<path d="M219.9 437.7V536.6H343.4" stroke="#5a5a5a" stroke-width="1.3" fill="none"/>
<path d="M217.9 536.6h2" stroke="#333" stroke-width="0.9"/>
<text x="217.1" y="539.2" class="T">0</text>
<path d="M218.5 524.24h1.4" stroke="#333" stroke-width="0.9"/>
<path d="M217.9 511.88h2" stroke="#333" stroke-width="0.9"/>
<text x="217.1" y="514.48" class="T">1</text>
<path d="M218.5 499.51h1.4" stroke="#333" stroke-width="0.9"/>
<path d="M217.9 487.15h2" stroke="#333" stroke-width="0.9"/>
<text x="217.1" y="489.75" class="T">2</text>
<path d="M218.5 474.79h1.4" stroke="#333" stroke-width="0.9"/>
<path d="M217.9 462.43h2" stroke="#333" stroke-width="0.9"/>
<text x="217.1" y="465.03" class="T">3</text>
<path d="M218.5 450.06h1.4" stroke="#333" stroke-width="0.9"/>
<path d="M217.9 437.7h2" stroke="#333" stroke-width="0.9"/>
<text x="217.1" y="440.3" class="T">4</text>
<text x="229.4" y="445.3" class="H">AhNRAMP6.3</text>
<text transform="translate(206.2 487.65) rotate(-90)" class="Y" style="font-size:9px">Relative gene expression</text>
<rect x="416.15" y="470.01" width="9.3" height="66.59" fill="#0000ff" stroke="#222" stroke-width="0.5"/>
<path d="M420.8 470.01V462.75M418.8 462.75h4" stroke="#222" stroke-width="0.9" fill="none"/>
<text x="420.8" y="460.05" class="L">a</text>
<rect x="425.45" y="532.12" width="9.3" height="4.48" fill="#00ff00" stroke="#222" stroke-width="0.5"/>
<path d="M430.1 532.12V531.65M428.1 531.65h4" stroke="#222" stroke-width="0.9" fill="none"/>
<text x="430.1" y="528.95" class="L">d</text>
<text x="425.45" y="543.95" class="X">Fe50</text>
<path d="M425.45 536.6v1.8" stroke="#333" stroke-width="0.9"/>
<path d="M440.81 536.6v1.3" stroke="#333" stroke-width="0.9"/>
<rect x="446.87" y="496.38" width="9.3" height="40.22" fill="#0000ff" stroke="#222" stroke-width="0.5"/>
<path d="M451.52 496.38V493.08M449.52 493.08h4" stroke="#222" stroke-width="0.9" fill="none"/>
<text x="451.52" y="490.38" class="L">b</text>
<rect x="456.17" y="518.14" width="9.3" height="18.46" fill="#00ff00" stroke="#222" stroke-width="0.5"/>
<path d="M460.82 518.14V514.18M458.82 514.18h4" stroke="#222" stroke-width="0.9" fill="none"/>
<text x="460.82" y="511.48" class="L">c</text>
<text x="456.17" y="543.95" class="X">Fe0</text>
<path d="M456.17 536.6v1.8" stroke="#333" stroke-width="0.9"/>
<path d="M471.53 536.6v1.3" stroke="#333" stroke-width="0.9"/>
<rect x="477.59" y="520.78" width="9.3" height="15.82" fill="#0000ff" stroke="#222" stroke-width="0.5"/>
<path d="M482.24 520.78V518.14M480.24 518.14h4" stroke="#222" stroke-width="0.9" fill="none"/>
<text x="482.24" y="515.44" class="L">c</text>
<rect x="486.89" y="530.93" width="9.3" height="5.67" fill="#00ff00" stroke="#222" stroke-width="0.5"/>
<path d="M491.54 530.93V530.01M489.54 530.01h4" stroke="#222" stroke-width="0.9" fill="none"/>
<text x="491.54" y="527.31" class="L">d</text>
<text x="486.89" y="543.95" class="X">Fe50Cd</text>
<path d="M486.89 536.6v1.8" stroke="#333" stroke-width="0.9"/>
<path d="M502.25 536.6v1.3" stroke="#333" stroke-width="0.9"/>
<rect x="508.31" y="497.7" width="9.3" height="38.9" fill="#0000ff" stroke="#222" stroke-width="0.5"/>
<path d="M512.96 497.7V491.11M510.96 491.11h4" stroke="#222" stroke-width="0.9" fill="none"/>
<text x="512.96" y="488.41" class="L">b</text>
<rect x="517.61" y="528.29" width="9.3" height="8.31" fill="#00ff00" stroke="#222" stroke-width="0.5"/>
<path d="M522.26 528.29V526.38M520.26 526.38h4" stroke="#222" stroke-width="0.9" fill="none"/>
<text x="522.26" y="523.68" class="L">d</text>
<text x="517.61" y="543.95" class="X">Fe0Cd</text>
<path d="M517.61 536.6v1.8" stroke="#333" stroke-width="0.9"/>
<path d="M409.9 437.7V536.6H533.4" stroke="#5a5a5a" stroke-width="1.3" fill="none"/>
<path d="M407.9 536.6h2" stroke="#333" stroke-width="0.9"/>
<text x="407.1" y="539.2" class="T">0.0</text>
<path d="M408.5 520.12h1.4" stroke="#333" stroke-width="0.9"/>
<path d="M407.9 503.63h2" stroke="#333" stroke-width="0.9"/>
<text x="407.1" y="506.23" class="T">0.5</text>
<path d="M408.5 487.15h1.4" stroke="#333" stroke-width="0.9"/>
<path d="M407.9 470.67h2" stroke="#333" stroke-width="0.9"/>
<text x="407.1" y="473.27" class="T">1.0</text>
<path d="M408.5 454.18h1.4" stroke="#333" stroke-width="0.9"/>
<path d="M407.9 437.7h2" stroke="#333" stroke-width="0.9"/>
<text x="407.1" y="440.3" class="T">1.5</text>
<text x="420.9" y="445.2" class="H">AhNRAMP6.4</text>
<text transform="translate(389.5 487.35) rotate(-90)" class="Y" style="font-size:7.8px">Relative gene expression</text>
<rect x="119.3" y="10.6" width="16.8" height="7.9" fill="#0000ff" stroke="#222" stroke-width="0.7"/>
<rect x="119.3" y="20.3" width="16.8" height="7.9" fill="#00ff00" stroke="#222" stroke-width="0.7"/>
<text x="138.9" y="17.6" class="G">Silihong</text>
<text x="138.9" y="27.4" class="G">Fenghua 1</text>
</svg>
</body></html>
